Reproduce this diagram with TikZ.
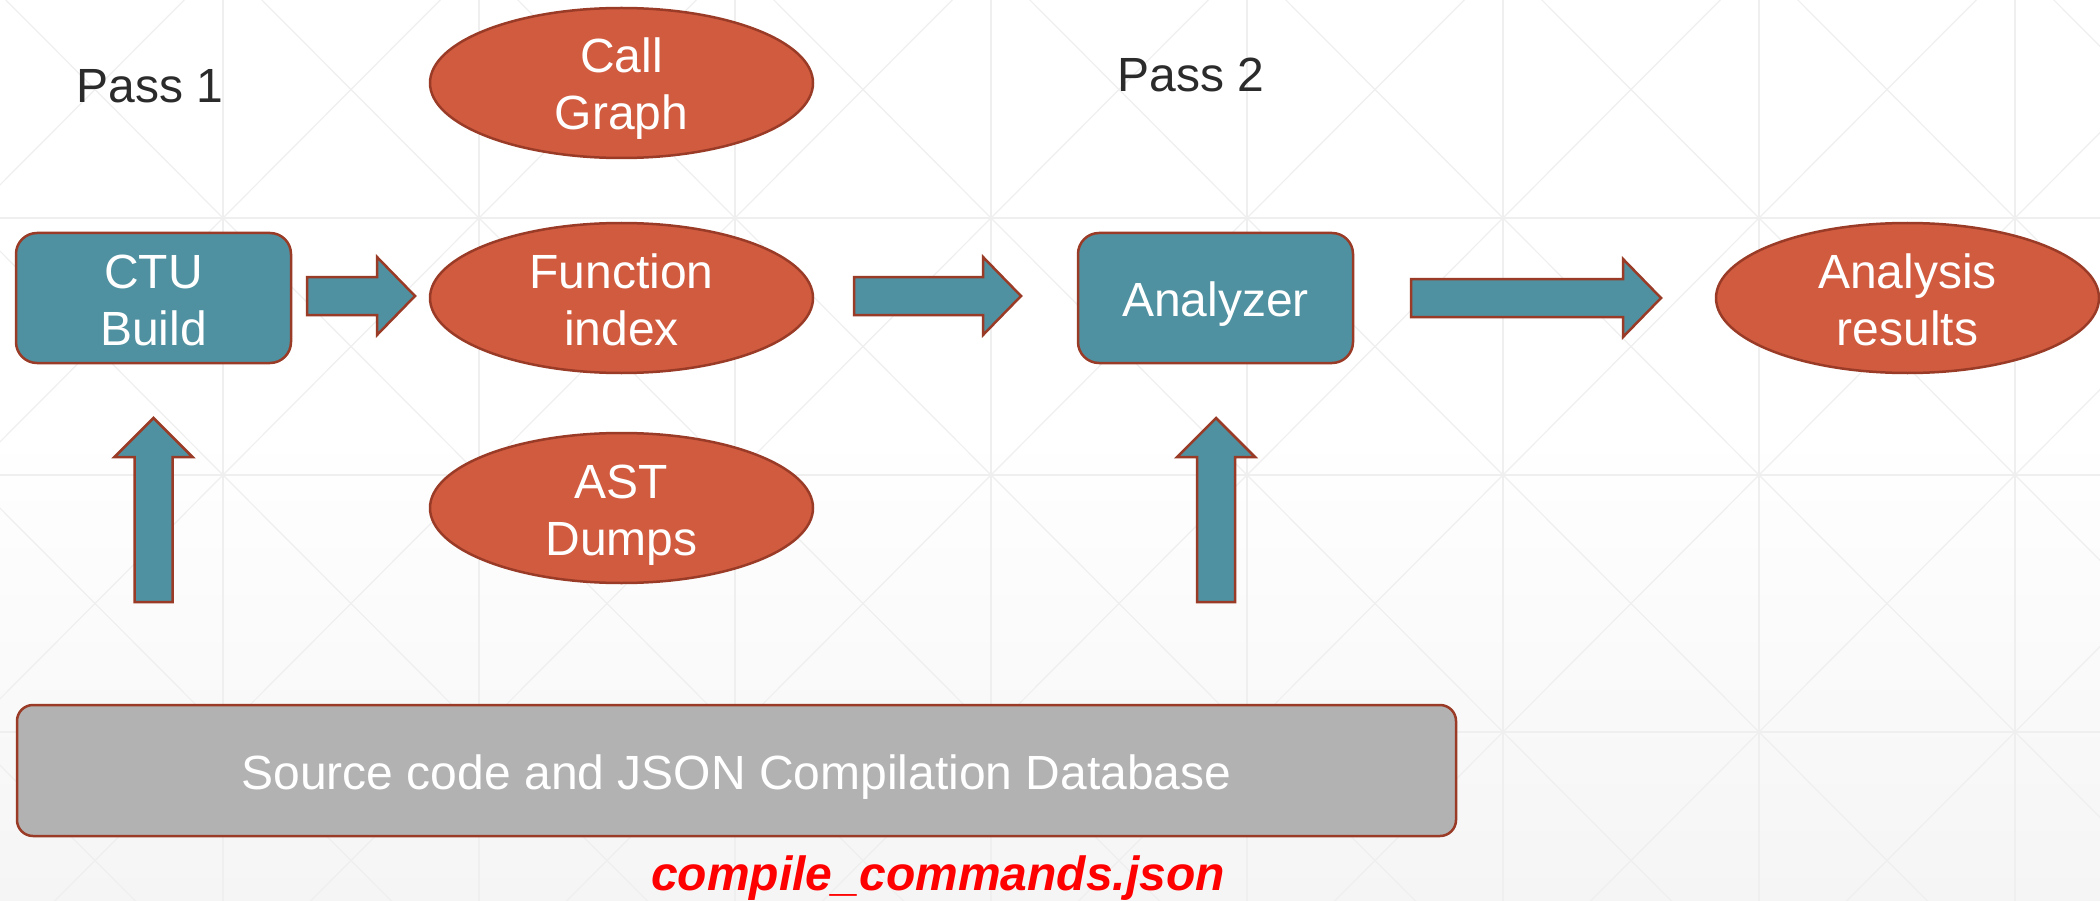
\documentclass[tikz,border=0pt]{standalone}
\usepackage{fontspec}
\setmainfont{Liberation Sans}
\usetikzlibrary{shapes.geometric,calc}

\definecolor{boxteal}{HTML}{4F91A0}
\definecolor{ovalred}{HTML}{D15B3F}
\definecolor{edgered}{HTML}{9A3B27}
\definecolor{dbgray}{HTML}{B2B2B2}
\definecolor{passgray}{HTML}{2B2B2B}
\definecolor{gridgray}{HTML}{EFEFEF}
\definecolor{floorgray}{HTML}{F5F5F5}

\newcommand\labelfont{\fontsize{48}{57}\selectfont}
% struts giving every label the same vertical extent around its baselines
\newcommand\topstrut{\rule{0pt}{49pt}}
\newcommand\botstrut{\rule[-12pt]{0pt}{12pt}}

% horizontal block arrow from #1 (tail centre) to #2 (tip)
\newcommand\rightblock[2]{%
  \draw[blk] let \p1=(#1), \p2=(#2) in
    (\x1,\y1+19pt) -- (\x2-38pt,\y1+19pt) -- (\x2-38pt,\y1+39pt) -- (\x2,\y1)
    -- (\x2-38pt,\y1-39pt) -- (\x2-38pt,\y1-19pt) -- (\x1,\y1-19pt) -- cycle;}
% vertical block arrow from #1 (tail centre) up to #2 (tip)
\newcommand\upblock[2]{%
  \draw[blk] let \p1=(#1), \p2=(#2) in
    (\x1-19pt,\y1) -- (\x1-19pt,\y2-39pt) -- (\x1-39pt,\y2-39pt) -- (\x1,\y2)
    -- (\x1+39pt,\y2-39pt) -- (\x1+19pt,\y2-39pt) -- (\x1+19pt,\y1) -- cycle;}

\begin{document}
\begin{tikzpicture}[x=1pt,y=-1pt,
  lbl/.style={text=white, font=\labelfont, align=center, inner sep=0pt},
  box/.style={lbl, draw=edgered, line width=2.5pt, fill=boxteal,
    rounded corners=21pt, minimum width=275pt, minimum height=130pt},
  oval/.style={ellipse, draw=edgered, line width=2.5pt, fill=ovalred,
    minimum width=383pt, minimum height=150pt, inner sep=0pt},
  blk/.style={draw=edgered, line width=2.5pt, fill=boxteal, line join=miter},
  gridline/.style={draw=gridgray, line width=1.2pt},
  passlabel/.style={text=passgray, font=\labelfont, inner sep=0pt, anchor=base},
]
\useasboundingbox (0,0) rectangle (2100,901);

% background: white page fading to light grey, with a faint lattice of crossed squares
\fill[white] (0,0) rectangle (2100,901);
\shade[top color=white, bottom color=floorgray] (0,430) rectangle (2100,901);
\begin{scope}
  \clip (0,0) rectangle (2100,901);
  \foreach \i in {-1,...,8}
    \foreach \j in {-1,...,3} {
      \pgfmathsetmacro\xa{223+256*\i}
      \pgfmathsetmacro\xb{223+256*(\i+1)}
      \pgfmathsetmacro\ya{218+257*\j}
      \pgfmathsetmacro\yb{218+257*(\j+1)}
      \draw[gridline] (\xa,\ya) -- (\xb,\yb);
      \draw[gridline] (\xa,\yb) -- (\xb,\ya);
    }
  \foreach \i in {-1,...,8}
    \draw[gridline] ({223+256*\i},0) -- ({223+256*\i},901);
  \foreach \j in {-1,...,3}
    \draw[gridline] (0,{218+257*\j}) -- (2100,{218+257*\j});
\end{scope}

% pass headings
\node[passlabel] (p1) at (150,103) {Pass 1};
\node[passlabel] (p2) at (1191,92) {Pass 2};

% stages
\node[box] (ctu) at (153.5,298) {\topstrut CTU\\Build\botstrut};
\node[box] (ana) at (1215.5,298) {\topstrut Analyzer\botstrut};
\node[oval, label={[lbl]center:{\topstrut Call\\Graph\botstrut}}] (cg) at (621.5,83) {};
\node[oval, label={[lbl]center:{\topstrut Function\\index\botstrut}}] (fi) at (621.5,298) {};
\node[oval, label={[lbl]center:{\topstrut AST\\Dumps\botstrut}}] (ast) at (621.5,508) {};
\node[oval, label={[lbl]center:{\topstrut Analysis\\results\botstrut}}] (res) at (1907.5,298) {};
\node[box, fill=dbgray, minimum width=1439pt, minimum height=131pt,
  rounded corners=16pt] (src) at (736.5,770.5)
  {\topstrut Source code and JSON Compilation Database\botstrut};
\node[text=red, font=\labelfont\bfseries\itshape, inner sep=0pt, anchor=base]
  (cc) at (938,890) {compile\_commands.json};

% arrow end points
\coordinate (a1s) at (307,296);
\coordinate (a1e) at (415,296);
\coordinate (a2s) at (854,296);
\coordinate (a2e) at (1021,296);
\coordinate (a3s) at (1411,298);
\coordinate (a3e) at (1661,298);
\coordinate (u1s) at (153.5,602);
\coordinate (u1e) at (153.5,418);
\coordinate (u2s) at (1216,602);
\coordinate (u2e) at (1216,418);

\rightblock{a1s}{a1e}
\rightblock{a2s}{a2e}
\rightblock{a3s}{a3e}
\upblock{u1s}{u1e}
\upblock{u2s}{u2e}
\end{tikzpicture}
\end{document}
